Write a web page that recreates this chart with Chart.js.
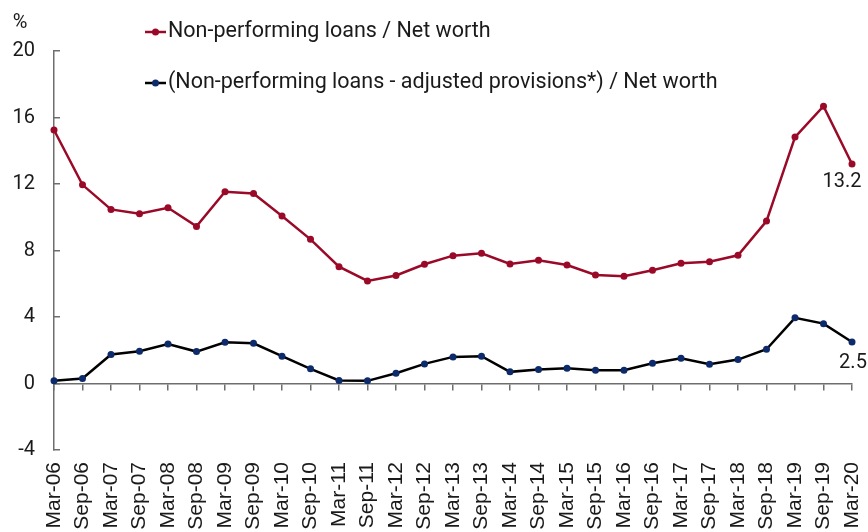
<!DOCTYPE html>
<html>
<head>
<meta charset="utf-8">
<script src="https://cdn.jsdelivr.net/npm/chart.js@4/dist/chart.umd.min.js"></script>
<style>
  html, body { margin: 0; padding: 0; background: #fff; }
  #wrap { width: 868px; height: 532px; position: relative; }
</style>
</head>
<body>
<div id="wrap"><canvas id="chart"></canvas></div>
<script>
const periods = [
    'Mar-06', 'Sep-06', 'Mar-07', 'Sep-07', 'Mar-08', 'Sep-08', 'Mar-09', 'Sep-09',
    'Mar-10', 'Sep-10', 'Mar-11', 'Sep-11', 'Mar-12', 'Sep-12', 'Mar-13', 'Sep-13',
    'Mar-14', 'Sep-14', 'Mar-15', 'Sep-15', 'Mar-16', 'Sep-16', 'Mar-17', 'Sep-17',
    'Mar-18', 'Sep-18', 'Mar-19', 'Sep-19', 'Mar-20',
];

const npl = [
    15.25, 11.95, 10.47, 10.21, 10.57, 9.45, 11.53, 11.43,
    10.07, 8.67, 7.03, 6.17, 6.5, 7.17, 7.69, 7.83,
    7.19, 7.41, 7.13, 6.53, 6.45, 6.81, 7.23, 7.33,
    7.71, 9.77, 14.82, 16.68, 13.2,
];

const nplAdjusted = [
    0.16, 0.3, 1.74, 1.94, 2.38, 1.92, 2.48, 2.42,
    1.64, 0.88, 0.18, 0.16, 0.62, 1.18, 1.6, 1.64,
    0.7, 0.84, 0.92, 0.8, 0.8, 1.22, 1.52, 1.16,
    1.44, 2.06, 3.95, 3.6, 2.5,
];

const yTicks = [-4, 0, 4, 8, 12, 16, 20];

const seriesNames = [
    'Non-performing loans / Net worth',
    '(Non-performing loans - adjusted provisions*) / Net worth',
];

const RED = '#9a0a28';
const NAVY = '#0d2a6b';
const AXIS = '#6e6e6e';
const TEXT = '#1a1a1a';

// legend, unit label and end-of-series labels
const extras = {
    id: 'extras',
    afterDraw(chart) {
        const ctx = chart.ctx;
        ctx.save();
        ctx.fillStyle = TEXT;
        ctx.textBaseline = 'middle';

        ctx.font = '20px Roboto';
        ctx.textAlign = 'center';
        ctx.fillText('%', 20, 23);

        const rows = [
            { y: 32, line: RED, dot: RED },
            { y: 83, line: '#000', dot: NAVY },
        ];
        ctx.font = '21.5px Roboto';
        rows.forEach((row, i) => {
            ctx.strokeStyle = row.line;
            ctx.lineWidth = 2.5;
            ctx.beginPath();
            ctx.moveTo(145, row.y);
            ctx.lineTo(166, row.y);
            ctx.stroke();
            ctx.fillStyle = row.dot;
            ctx.beginPath();
            ctx.arc(155.5, row.y, 3.5, 0, Math.PI * 2);
            ctx.fill();
            ctx.fillStyle = TEXT;
            ctx.textAlign = 'left';
            ctx.fillText(seriesNames[i], 168, row.y);
        });

        ctx.font = '20px Roboto';
        const last = periods.length - 1;
        const p0 = chart.getDatasetMeta(0).data[last];
        const p1 = chart.getDatasetMeta(1).data[last];
        ctx.textAlign = 'center';
        ctx.fillText(npl[last].toFixed(1), p0.x - 10, p0.y + 18);
        ctx.fillText(nplAdjusted[last].toFixed(1), p1.x + 1, p1.y + 21);
        ctx.restore();
    },
};

new Chart(document.getElementById('chart'), {
    type: 'line',
    data: {
        labels: periods,
        datasets: [
            {
                label: seriesNames[0],
                data: npl,
                borderColor: RED,
                backgroundColor: RED,
                borderWidth: 2.5,
                pointRadius: 3.5,
                pointBorderWidth: 0,
                tension: 0,
            },
            {
                label: seriesNames[1],
                data: nplAdjusted,
                borderColor: '#000',
                backgroundColor: NAVY,
                pointBackgroundColor: NAVY,
                borderWidth: 2.5,
                pointRadius: 3.5,
                pointBorderWidth: 0,
                tension: 0,
            },
        ],
    },
    options: {
        responsive: true,
        maintainAspectRatio: false,
        animation: false,
        layout: { padding: { top: 51, right: 16, left: 0, bottom: 0 } },
        plugins: {
            legend: { display: false },
            tooltip: { enabled: false },
        },
        scales: {
            x: {
                type: 'category',
                position: { y: 0 },
                offset: false,
                grid: { drawOnChartArea: false, drawTicks: true, tickLength: 6, color: AXIS, lineWidth: 1.5 },
                border: { color: AXIS, width: 1.5 },
                ticks: { display: false },
                afterFit(scale) {
                    scale.paddingLeft = 0;
                    scale.paddingRight = 0;
                },
            },
            x2: {
                type: 'category',
                axis: 'x',
                labels: periods,
                position: 'bottom',
                offset: false,
                grid: { display: false, drawTicks: false },
                border: { display: false },
                ticks: {
                    autoSkip: false,
                    maxRotation: 90,
                    minRotation: 90,
                    padding: 12,
                    color: TEXT,
                    font: { family: 'Liberation Sans', size: 21 },
                },
                afterFit(scale) {
                    scale.height = 82;
                    scale.paddingLeft = 0;
                    scale.paddingRight = 0;
                },
            },
            y: {
                min: -4,
                max: 20,
                afterBuildTicks(scale) {
                    scale.ticks = yTicks.map((v) => ({ value: v }));
                },
                grid: { drawOnChartArea: false, drawTicks: true, tickLength: -6, color: AXIS, lineWidth: 1.5 },
                border: { color: AXIS, width: 1.5 },
                ticks: {
                    padding: 25,
                    color: TEXT,
                    font: { family: 'Roboto', size: 20 },
                },
                afterFit(scale) { scale.width = 54; },
            },
        },
    },
    plugins: [extras],
});
</script>
</body>
</html>
